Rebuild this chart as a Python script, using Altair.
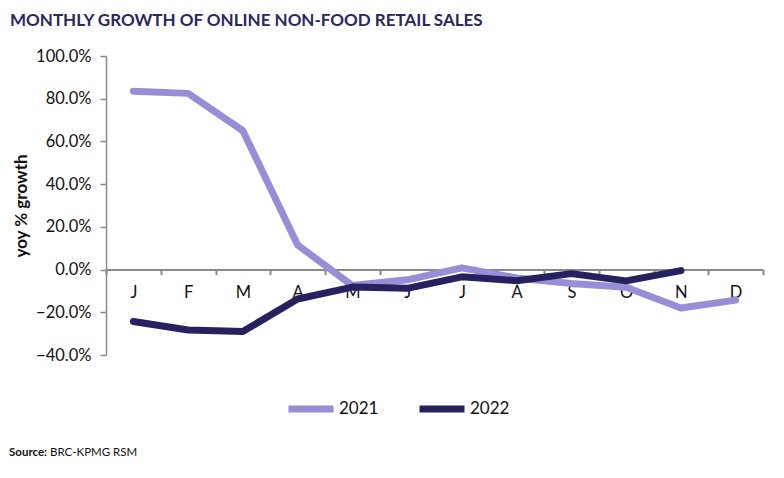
import altair as alt
import pandas as pd

months = ["Jan", "Feb", "Mar", "Apr", "May", "Jun", "Jul", "Aug", "Sep", "Oct", "Nov", "Dec"]
growth_2021 = [83.5, 82.5, 65.0, 11.5, -7.5, -4.8, 0.8, -3.9, -6.5, -8.3, -18.0, -14.3]
growth_2022 = [-24.3, -28.3, -29.0, -13.8, -8.2, -8.8, -3.4, -5.2, -1.9, -5.3, -0.5, None]
years = ["2021", "2022"]
colors = ["#968fd7", "#26215f"]
y_ticks = [-40, -20, 0, 20, 40, 60, 80, 100]

rows = []
for m, a, b in zip(months, growth_2021, growth_2022):
    rows.append({"month": m, "year": "2021", "value": a})
    if b is not None:
        rows.append({"month": m, "year": "2022", "value": b})
df = pd.DataFrame(rows)

W, H = 657, 299
zero_offset = -H * 40 / 140

lines = alt.Chart(df).mark_line(strokeWidth=7, strokeCap="round", strokeJoin="round").encode(
    x=alt.X("month:N", sort=months,
            scale=alt.Scale(type="band", paddingInner=0, paddingOuter=0),
            axis=alt.Axis(title=None, orient="bottom", offset=zero_offset, labelAngle=0,
                          labelExpr="substring(datum.label, 0, 1)", tickBand="extent",
                          tickSize=5, tickColor="#898989", tickWidth=2,
                          domainColor="#898989", domainWidth=2,
                          labelFont="Lato", labelFontSize=16.5, labelColor="#111111",
                          labelPadding=10, grid=False)),
    y=alt.Y("value:Q", scale=alt.Scale(domain=[-40, 100], nice=False, zero=False),
            axis=alt.Axis(values=y_ticks, labelExpr="format(datum.value, '.1f') + '%'",
                          title="yoy % growth", titleFont="Lato", titleFontSize=17,
                          titleFontWeight="bold", titleColor="#111111", titlePadding=5,
                          labelFont="Lato", labelFontSize=16.5, labelColor="#111111",
                          tickSize=6, tickColor="#898989", tickWidth=1.5,
                          domainColor="#898989", domainWidth=1.5, labelPadding=9,
                          grid=False)),
    color=alt.Color("year:N", scale=alt.Scale(domain=years, range=colors),
                    legend=alt.Legend(title=None, orient="none", legendX=179, legendY=327,
                                      direction="horizontal", symbolType="stroke",
                                      symbolStrokeWidth=7, symbolSize=2025,
                                      labelFont="Lato", labelFontSize=17, labelColor="#111111",
                                      labelOffset=2, columnPadding=26, padding=0)),
)

src_df = pd.DataFrame({"t": ["Source:"]})
src_bold = alt.Chart(src_df).mark_text(align="left", baseline="middle", font="Lato",
                                       fontSize=11.5, fontWeight="bold", color="#111111").encode(
    text="t:N", x=alt.value(-97), y=alt.value(397))
src2_df = pd.DataFrame({"t": ["BRC-KPMG RSM"]})
src_reg = alt.Chart(src2_df).mark_text(align="left", baseline="middle", font="Lato",
                                       fontSize=11.5, color="#111111").encode(
    text="t:N", x=alt.value(-56), y=alt.value(397))

chart = alt.layer(lines, src_bold, src_reg).properties(
    width=W, height=H,
    title=alt.TitleParams("MONTHLY GROWTH OF ONLINE NON-FOOD RETAIL SALES", anchor="start",
                          frame="group", dx=-96, font="Lato", fontSize=17, fontWeight="bold",
                          color="#2b275f", offset=18),
    padding={"left": 98, "top": 48, "right": 13, "bottom": 107},
    autosize=alt.AutoSizeParams(type="none"),
).configure_view(stroke=None)

chart.save("out.html", embed_options={"renderer": "svg", "actions": False})
